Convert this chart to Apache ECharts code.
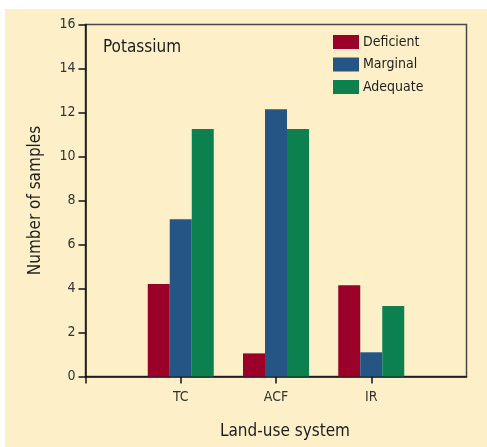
<!DOCTYPE html>
<html>
<head>
<meta charset="utf-8">
<script src="https://cdn.jsdelivr.net/npm/echarts@6/dist/echarts.min.js"></script>
<style>
html,body{margin:0;padding:0;background:#fff;}
#chart{width:487px;height:447px;}
</style>
</head>
<body>
<div id="chart"></div>
<script>
var categories = ['TC', 'ACF', 'IR'];
var deficient = [4.2, 1.05, 4.15];
var marginal = [7.15, 12.15, 1.1];
var adequate = [11.25, 11.25, 3.2];
var yTicks = [0, 2, 4, 6, 8, 10, 12, 14, 16];

var FONT = '"Liberation Sans Narrow", "DejaVu Sans Condensed", "Liberation Sans", sans-serif';
var TXT = '#1e1e1e';

// pad the category axis with empty slots at both ends
var axisCats = [''].concat(categories).concat(['']);
function pad(arr) { return [null].concat(arr).concat([null]); }

var chart = echarts.init(document.getElementById('chart'), null, {renderer: 'canvas'});
chart.setOption({
  backgroundColor: '#ffffff',
  animation: false,
  graphic: [
    {type: 'rect', z: -10, shape: {x: 5, y: 9, width: 482, height: 438}, style: {fill: '#FDF0C9'}},
    {type: 'text', left: 103, top: 39, style: {text: 'Potassium', font: '17px ' + FONT, fill: TXT}}
  ],
  legend: {
    orient: 'vertical',
    left: 333,
    top: 35,
    padding: 0,
    itemWidth: 26,
    itemHeight: 14,
    itemGap: 8.5,
    icon: 'rect',
    textStyle: {fontFamily: FONT, fontSize: 14, lineHeight: 14, color: TXT, padding: [0, 0, 0, -1]},
    data: ['Deficient', 'Marginal', 'Adequate']
  },
  grid: {
    left: 85.5, right: 20.5, top: 24.5, bottom: 70.5,
    show: true, borderColor: '#4a4a4a', borderWidth: 1.5, backgroundColor: 'transparent'
  },
  xAxis: {
    type: 'category',
    data: axisCats,
    boundaryGap: false,
    name: 'Land-use system',
    nameLocation: 'middle',
    nameGap: 47,
    nameTextStyle: {fontFamily: FONT, fontSize: 17, color: TXT, padding: [0, 0, 0, 18]},
    axisLine: {lineStyle: {color: '#111', width: 1.5}},
    axisTick: {length: 7, lineStyle: {color: '#111', width: 1.5}, interval: function (i) { return i < axisCats.length - 1; }},
    axisLabel: {fontFamily: FONT, fontSize: 14, color: '#333', margin: 14},
    splitLine: {show: false}
  },
  yAxis: {
    type: 'value',
    min: yTicks[0],
    max: yTicks[yTicks.length - 1],
    interval: 2,
    name: 'Number of samples',
    nameLocation: 'middle',
    nameGap: 41,
    nameTextStyle: {fontFamily: FONT, fontSize: 17, color: TXT},
    axisLine: {show: true, lineStyle: {color: '#111', width: 1.5}},
    axisTick: {show: true, length: 7, lineStyle: {color: '#111', width: 1.5}},
    axisLabel: {fontFamily: FONT, fontSize: 14, color: '#333', margin: 10},
    splitLine: {show: false}
  },
  series: [
    {name: 'Deficient', type: 'bar', data: pad(deficient), barWidth: 22, barGap: '0%', itemStyle: {color: '#9B0029'}},
    {name: 'Marginal', type: 'bar', data: pad(marginal), barWidth: 22, barGap: '0%', itemStyle: {color: '#245585'}},
    {name: 'Adequate', type: 'bar', data: pad(adequate), barWidth: 22, barGap: '0%', itemStyle: {color: '#0D8050'}}
  ]
});
</script>
</body>
</html>
